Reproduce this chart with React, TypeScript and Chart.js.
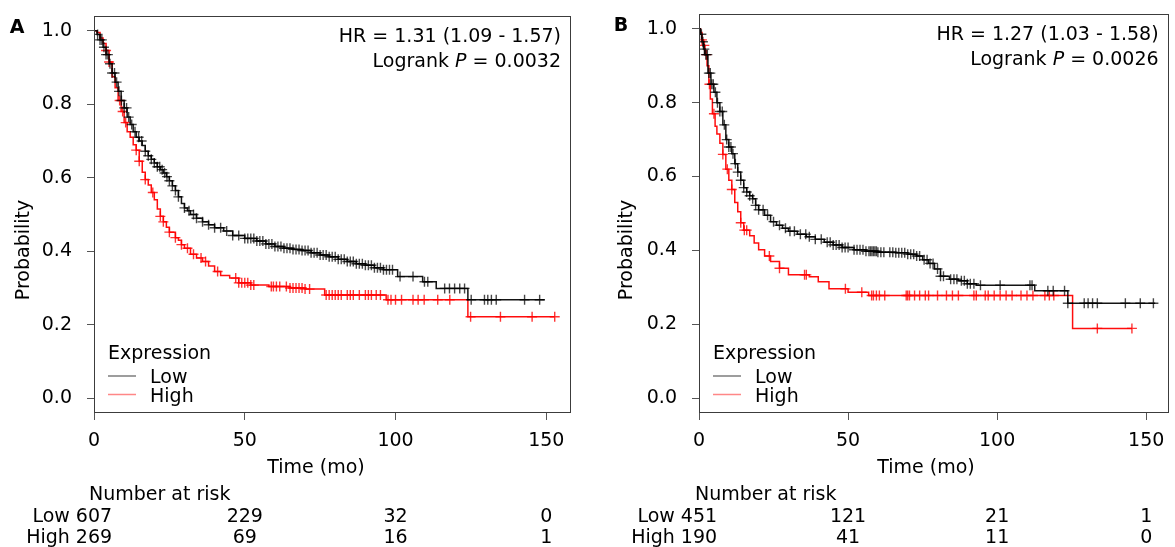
import React, { useEffect, useRef } from 'react';
import { Chart, registerables } from 'chart.js';

Chart.register(...registerables);

const FONT = '"DejaVu Sans", Verdana, sans-serif';

// ---------- axes ----------
const xTicks = [0, 50, 100, 150];
const yTicks = [0, 0.2, 0.4, 0.6, 0.8, 1.0];
const riskTimes = [0, 50, 100, 150];

// ---------- Panel A ----------
const aLowTime = [0, 1, 2, 3, 4, 5, 6, 7, 8, 9, 10, 11, 12, 13, 14, 15, 16, 17, 18, 19, 20, 21, 22, 23, 24, 25, 26, 27, 28, 29, 30, 31, 32, 34, 36, 38, 40, 43, 46, 50, 54, 57, 60, 63, 66, 69, 72, 75, 78, 81, 84, 87, 90, 93, 96, 100.7, 109, 113.5, 124, 149.5];
const aLowSurv = [1.0, 0.99, 0.975, 0.955, 0.935, 0.91, 0.885, 0.86, 0.835, 0.81, 0.79, 0.765, 0.745, 0.725, 0.71, 0.7, 0.688, 0.672, 0.66, 0.65, 0.64, 0.63, 0.622, 0.613, 0.603, 0.592, 0.578, 0.565, 0.548, 0.53, 0.518, 0.51, 0.5, 0.49, 0.48, 0.472, 0.464, 0.455, 0.443, 0.435, 0.428, 0.42, 0.413, 0.408, 0.405, 0.402, 0.396, 0.39, 0.385, 0.378, 0.372, 0.366, 0.362, 0.355, 0.35, 0.331, 0.317, 0.299, 0.268, 0.268];
const aLowCensor = [1.2, 2, 2.6, 3.3, 4, 4.6, 5.3, 6, 6.8, 7.5, 8.3, 9.1, 10, 10.8, 11.5, 12.5, 13.6, 14.8, 15.8, 17, 18, 19, 20, 21, 21.8, 22.6, 23.4, 24.2, 25, 26, 27, 28, 30, 31.5, 33, 34, 36, 38, 40, 42, 44, 46, 48, 50, 51, 52, 53, 54, 55, 56, 57, 58, 59, 60, 61, 62, 63, 64, 65, 66, 67, 68, 69, 70, 71, 72, 73, 74, 75, 76, 77, 78, 79, 80, 81, 82, 83, 84, 85, 86, 87, 88, 89, 90, 91, 92, 93, 94, 95, 96, 97, 98, 99, 101.5, 105.8, 109.6, 110.7, 116.3, 117.9, 119.6, 121.3, 122.9, 125.1, 129.5, 130.6, 131.8, 133.4, 142.8, 147.8];

const aHighTime = [0, 1, 2, 3, 4, 5, 6, 7, 8, 9, 10, 11, 12, 13, 14, 15, 16, 17, 18, 19, 20, 21, 22, 23, 24, 25, 27, 28, 29, 30, 32, 34, 36, 38, 40, 42, 45, 48, 52, 58, 65, 70, 76.5, 96.9, 124, 152.8];
const aHighSurv = [1.0, 0.995, 0.98, 0.965, 0.946, 0.915, 0.875, 0.845, 0.81, 0.78, 0.75, 0.725, 0.71, 0.69, 0.675, 0.645, 0.615, 0.595, 0.58, 0.56, 0.54, 0.515, 0.495, 0.48, 0.465, 0.452, 0.437, 0.43, 0.418, 0.408, 0.392, 0.382, 0.372, 0.36, 0.345, 0.334, 0.327, 0.314, 0.308, 0.304, 0.3, 0.297, 0.281, 0.268, 0.222, 0.222];
const aHighCensor = [4, 5, 8.5, 9.5, 10.5, 14, 15, 17, 19.5, 22, 23, 25, 27, 29, 31, 33, 35.5, 37, 41, 47, 48, 49, 50, 51, 52, 53, 58.8, 59.5, 60.5, 61.6, 63.8, 65, 66, 67, 68, 69, 70, 71.5, 77, 78, 79, 80, 81, 82, 84, 85, 86, 88, 90, 91, 92, 93.6, 95, 97.5, 98.5, 100, 102, 105.8, 107.5, 109.5, 114, 118, 124.9, 134.8, 145.3, 152.8];

const aRiskLow = [607, 229, 32, 0];
const aRiskHigh = [269, 69, 16, 1];

// ---------- Panel B ----------
const bLowTime = [0, 0.5, 1, 1.5, 2, 3, 4, 5, 6, 7, 8, 9, 10, 11, 12, 13, 14, 15, 16, 17, 18, 19, 20, 22, 24, 26, 28, 30, 33, 36, 39, 42, 45, 48, 52, 56, 60, 66, 70, 73, 75, 77, 79, 81, 84, 87, 90, 93, 112.6, 123.7, 153];
const bLowSurv = [1.0, 0.985, 0.965, 0.945, 0.93, 0.88, 0.85, 0.828, 0.8, 0.776, 0.74, 0.7, 0.68, 0.662, 0.635, 0.612, 0.59, 0.57, 0.558, 0.548, 0.54, 0.522, 0.51, 0.495, 0.478, 0.468, 0.46, 0.452, 0.444, 0.437, 0.43, 0.422, 0.415, 0.408, 0.402, 0.398, 0.395, 0.394, 0.39, 0.385, 0.375, 0.365, 0.35, 0.33, 0.322, 0.318, 0.31, 0.306, 0.291, 0.257, 0.257];
const bLowCensor = [0.8, 1.3, 1.8, 2.3, 2.8, 3.3, 3.8, 4.3, 4.8, 5.5, 6.2, 7, 7.8, 8.5, 9.3, 10, 10.7, 11.4, 12.2, 13, 14, 15, 16, 17, 18, 19, 20, 21.5, 23, 25, 27, 29, 30.5, 32, 34, 35.8, 37, 39, 41, 43, 44, 45, 46, 47, 48, 49, 50, 52, 53, 54, 55, 56, 57, 57.5, 58, 58.5, 59, 59.5, 60, 61, 62, 64, 65, 66, 67, 68, 69, 70, 71, 72, 73, 74, 75.5, 76.5, 77.5, 78.5, 80, 81, 82, 84.4, 85.5, 86.5, 88, 89, 90, 91, 92.2, 94.4, 101, 111, 111.7, 117, 118.8, 122.6, 123.7, 129.2, 130.5, 132, 133.6, 143, 148, 152.4];

const bHighTime = [0, 0.5, 1, 1.5, 2, 2.7, 3.3, 3.8, 4.5, 5.4, 6, 7, 8, 9, 10, 11, 12, 13, 14, 15, 17, 18.5, 20, 22, 24, 27, 30, 37, 40, 43.6, 50, 56.9, 125.3, 145.2];
const bHighSurv = [1.0, 0.99, 0.97, 0.955, 0.93, 0.9, 0.85, 0.81, 0.77, 0.736, 0.715, 0.69, 0.66, 0.62, 0.59, 0.565, 0.53, 0.505, 0.475, 0.455, 0.44, 0.42, 0.402, 0.385, 0.37, 0.352, 0.334, 0.329, 0.315, 0.296, 0.287, 0.278, 0.189, 0.189];
const bHighCensor = [1, 1.8, 2.5, 3.5, 5, 8, 9.5, 11, 14, 15.2, 16, 23.6, 27, 35.4, 36, 49.1, 54.6, 57.9, 58.5, 59.5, 60.5, 62.3, 69.5, 70, 70.6, 72.3, 74, 75.9, 77, 80, 83, 85, 87, 92.2, 93, 96, 97, 99, 101, 103, 105, 108, 110, 112, 116, 117.5, 119, 133.6, 145.2];

const bRiskLow = [451, 121, 21, 1];
const bRiskHigh = [190, 41, 11, 0];

// ---------- helpers ----------
function survAt(times: number[], surv: number[], t: number) {
  let s = surv[0];
  for (let i = 0; i < times.length; i++) {
    if (times[i] <= t) s = surv[i];
  }
  return s;
}

type PanelCfg = {
  canvasLeft: number;
  width: number;
  chartLeft: number;
  chartRight: number;
  chartTop: number;
  xMax: number;
  letter: string;
  letterX: number;
  letterY: number;
  probX: number;
  hr: string;
  pval: string;
  timeX: number;
  narX: number;
  lowTime: number[];
  lowSurv: number[];
  lowCensor: number[];
  highTime: number[];
  highSurv: number[];
  highCensor: number[];
  riskLow: number[];
  riskHigh: number[];
};

const HEIGHT = 547;
const CHART_BOTTOM = 413;

const panels: PanelCfg[] = [
  {
    canvasLeft: 0, width: 600, chartLeft: 94, chartRight: 571, chartTop: 16, xMax: 158.2,
    letter: 'A', letterX: 17, letterY: 28, probX: 29,
    hr: 'HR = 1.31 (1.09 - 1.57)', pval: '0.0032', timeX: 316, narX: 89,
    lowTime: aLowTime, lowSurv: aLowSurv, lowCensor: aLowCensor,
    highTime: aHighTime, highSurv: aHighSurv, highCensor: aHighCensor,
    riskLow: aRiskLow, riskHigh: aRiskHigh,
  },
  {
    canvasLeft: 600, width: 575, chartLeft: 99, chartRight: 574, chartTop: 14, xMax: 157.5,
    letter: 'B', letterX: 21, letterY: 26, probX: 32,
    hr: 'HR = 1.27 (1.03 - 1.58)', pval: '0.0026', timeX: 326, narX: 95,
    lowTime: bLowTime, lowSurv: bLowSurv, lowCensor: bLowCensor,
    highTime: bHighTime, highSurv: bHighSurv, highCensor: bHighCensor,
    riskLow: bRiskLow, riskHigh: bRiskHigh,
  },
];

function makeOverlay(p: PanelCfg) {
  return {
    id: 'kmOverlay' + p.letter,
    afterDraw(chart: any) {
      const ctx = chart.ctx as CanvasRenderingContext2D;
      const { left, right, top, bottom } = chart.chartArea;
      const xs = chart.scales.x;
      ctx.save();
      // box
      ctx.strokeStyle = '#3c3c3c';
      ctx.lineWidth = 1;
      ctx.strokeRect(Math.round(left) + 0.5, Math.round(top) + 0.5, Math.round(right - left) - 1, Math.round(bottom - top) - 1);

      ctx.fillStyle = '#000';
      // panel letter
      ctx.font = `bold 19px ${FONT}`;
      ctx.textAlign = 'center';
      ctx.textBaseline = 'middle';
      ctx.fillText(p.letter, p.letterX, p.letterY);

      const f = `19px ${FONT}`;
      const fi = `italic 19px ${FONT}`;
      ctx.font = f;
      ctx.textBaseline = 'alphabetic';

      // HR text
      ctx.textAlign = 'right';
      const rx = right - 10;
      ctx.fillText(p.hr, rx, top + 26);
      // Logrank P = ...
      const s1 = 'Logrank ';
      const s3 = ' = ' + p.pval;
      ctx.font = f;
      const w1 = ctx.measureText(s1).width;
      const w3 = ctx.measureText(s3).width;
      ctx.font = fi;
      const w2 = ctx.measureText('P').width;
      const startX = rx - (w1 + w2 + w3);
      ctx.textAlign = 'left';
      ctx.font = f;
      ctx.fillText(s1, startX, top + 51);
      ctx.font = fi;
      ctx.fillText('P', startX + w1, top + 51);
      ctx.font = f;
      ctx.fillText(s3, startX + w1 + w2, top + 51);

      // y title
      ctx.save();
      ctx.translate(p.probX, 250);
      ctx.rotate(-Math.PI / 2);
      ctx.textAlign = 'center';
      ctx.fillText('Probability', 0, 0);
      ctx.restore();

      // legend
      const lx = left + 14;
      ctx.textAlign = 'left';
      ctx.fillText('Expression', lx, bottom - 54);
      ctx.lineWidth = 1.5;
      ctx.strokeStyle = 'rgb(125,125,125)';
      ctx.beginPath();
      ctx.moveTo(lx, bottom - 37);
      ctx.lineTo(lx + 28, bottom - 37);
      ctx.stroke();
      ctx.strokeStyle = 'rgb(255,135,135)';
      ctx.beginPath();
      ctx.moveTo(lx, bottom - 18.5);
      ctx.lineTo(lx + 28, bottom - 18.5);
      ctx.stroke();
      ctx.fillText('Low', lx + 42, bottom - 30);
      ctx.fillText('High', lx + 42, bottom - 11);

      // x title
      ctx.textAlign = 'center';
      ctx.fillText('Time (mo)', p.timeX, 473);

      // number at risk
      ctx.textAlign = 'left';
      ctx.fillText('Number at risk', p.narX, 500);
      const rows: [string, number[], number][] = [
        ['Low', p.riskLow, 522],
        ['High', p.riskHigh, 543],
      ];
      const space = ctx.measureText(' ').width;
      rows.forEach(([label, vals, y]) => {
        ctx.textAlign = 'center';
        vals.forEach((v, i) => {
          ctx.fillText(String(v), xs.getPixelForValue(riskTimes[i]), y);
        });
        const w0 = ctx.measureText(String(vals[0])).width;
        ctx.textAlign = 'right';
        ctx.fillText(label, xs.getPixelForValue(riskTimes[0]) - w0 / 2 - space, y);
      });
      ctx.restore();
    },
  };
}

function KMPanel({ p }: { p: PanelCfg }) {
  const ref = useRef<HTMLCanvasElement | null>(null);
  useEffect(() => {
    if (!ref.current) return;
    const lowPts = p.lowTime.map((t, i) => ({ x: t, y: p.lowSurv[i] }));
    const highPts = p.highTime.map((t, i) => ({ x: t, y: p.highSurv[i] }));
    const lowC = p.lowCensor.map((t) => ({ x: t, y: survAt(p.lowTime, p.lowSurv, t) }));
    const highC = p.highCensor.map((t) => ({ x: t, y: survAt(p.highTime, p.highSurv, t) }));
    const tickFont = { size: 19, family: FONT };
    const chart = new Chart(ref.current, {
      type: 'line',
      data: {
        datasets: [
          { data: lowC, showLine: false, pointStyle: 'cross', pointRadius: 5, pointBorderWidth: 1.4, pointBorderColor: 'rgba(0,0,0,0.72)', borderColor: 'rgba(0,0,0,0.72)' } as any,
          { data: lowPts, borderColor: 'rgba(0,0,0,0.92)', borderWidth: 1.5, stepped: true, pointRadius: 0, fill: false } as any,
          { data: highC, showLine: false, pointStyle: 'cross', pointRadius: 5, pointBorderWidth: 1.4, pointBorderColor: 'rgba(255,0,0,0.8)', borderColor: 'rgba(255,0,0,0.8)' } as any,
          { data: highPts, borderColor: 'rgba(255,0,0,0.95)', borderWidth: 1.5, stepped: true, pointRadius: 0, fill: false } as any,
        ],
      },
      options: {
        animation: false,
        responsive: false,
        devicePixelRatio: 1,
        events: [],
        layout: { padding: { top: p.chartTop, right: p.width - p.chartRight, left: 0, bottom: 0 } },
        plugins: { legend: { display: false }, tooltip: { enabled: false } },
        scales: {
          x: {
            type: 'linear',
            min: 0,
            max: p.xMax,
            afterBuildTicks: (s: any) => { s.ticks = xTicks.map((v) => ({ value: v })); },
            afterFit: (s: any) => { s.height = HEIGHT - CHART_BOTTOM; s.paddingLeft = 0; s.paddingRight = 0; },
            grid: { drawOnChartArea: false, drawTicks: true, tickLength: 7, color: '#555' },
            border: { display: false },
            ticks: { padding: 10, color: '#000', font: tickFont, maxRotation: 0, autoSkip: false },
          },
          y: {
            type: 'linear',
            min: -0.04,
            max: 1.04,
            afterBuildTicks: (s: any) => { s.ticks = yTicks.map((v) => ({ value: v })); },
            afterFit: (s: any) => { s.width = p.chartLeft; s.paddingTop = 0; s.paddingBottom = 0; },
            grid: { drawOnChartArea: false, drawTicks: true, tickLength: 7, color: '#555' },
            border: { display: false },
            ticks: { padding: 15, color: '#000', font: tickFont, callback: (v: any) => Number(v).toFixed(1) },
          },
        },
      } as any,
      plugins: [makeOverlay(p)],
    });
    return () => chart.destroy();
  }, [p]);
  return (
    <canvas
      ref={ref}
      width={p.width}
      height={HEIGHT}
      style={{ position: 'absolute', left: p.canvasLeft, top: 0, width: p.width, height: HEIGHT }}
    />
  );
}

export default function App() {
  return (
    <div style={{ position: 'fixed', left: 0, top: 0, width: 1175, height: 547, background: '#fff', overflow: 'hidden' }}>
      {panels.map((p) => (
        <KMPanel key={p.letter} p={p} />
      ))}
    </div>
  );
}
